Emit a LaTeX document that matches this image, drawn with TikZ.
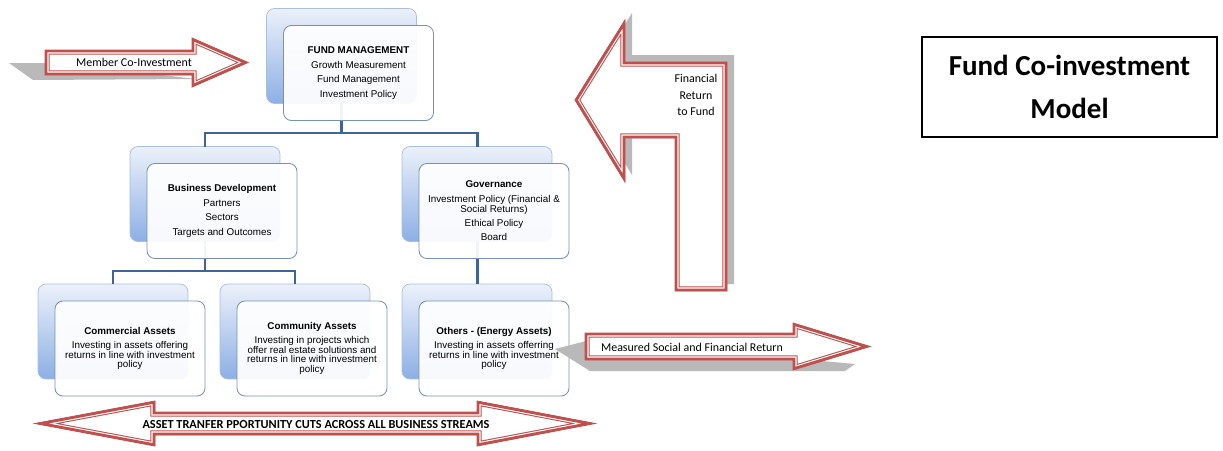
\documentclass[tikz,border=0pt]{standalone}
\usepackage{fontspec}
\setmainfont{Liberation Sans}
\newfontfamily\calfont{Carlito}
\usetikzlibrary{positioning}
\definecolor{arrowred}{RGB}{192,80,77}
\definecolor{linkblue}{RGB}{64,100,150}
\definecolor{bkTop}{RGB}{236,241,250}
\definecolor{bkBot}{RGB}{140,175,228}
\definecolor{bkEdge}{RGB}{170,190,222}
\definecolor{frEdge}{RGB}{120,145,185}
\definecolor{shadowgray}{RGB}{185,185,185}
\tikzstyle{backbox}=[rounded corners=4.5pt, draw=bkEdge, line width=0.4pt, top color=bkTop, bottom color=bkBot, minimum width=3cm, minimum height=1.9cm, inner sep=0pt, outer sep=0pt]
\tikzstyle{frontbox}=[rounded corners=4.5pt, draw=frEdge, line width=0.5pt, fill=white, fill opacity=0.93, text opacity=1, minimum width=3cm, minimum height=1.9cm, align=center, inner sep=1pt, font=\fontsize{5.6}{5.6}\selectfont]
\tikzstyle{link}=[linkblue, line width=1.7pt]
\tikzstyle{arrowtext}=[inner sep=0pt, align=center, font=\calfont\fontsize{6.8}{9.4}\selectfont]
% red block arrow with an inner double outline
\newcommand{\blockarrow}[1]{%
  \fill[white] #1;
  \begin{scope}
    \clip #1;
    \draw[arrowred, line width=5.2pt, line join=miter] #1;
    \draw[white, line width=4pt, line join=miter] #1;
    \draw[arrowred, line width=2.8pt, line join=miter] #1;
  \end{scope}
  \draw[arrowred, line width=0.5pt, line join=miter] #1;
}

\begin{document}
\begin{tikzpicture}[x=0.02cm, y=-0.02cm]
    \useasboundingbox (0,0) rectangle (1223,450);

    % back boxes
    \node[backbox] (fmB) at (341.5,56) {};
    \node[backbox] (bdB) at (205,194) {};
    \node[backbox] (govB) at (477,194) {};
    \node[backbox] (comB) at (113,331.5) {};
    \node[backbox] (cmyB) at (295,331.5) {};
    \node[backbox] (othB) at (477,331.5) {};

    \coordinate (bus1) at (0,133);
    \coordinate (bus2) at (0,271);

    % Links
    \draw[link] (fmB.south) -- (fmB.south |- bus1) -| (bdB.north);
    \draw[link] (fmB.south |- bus1) -| (govB.north);
    \draw[link] (bdB.south) -- (bdB.south |- bus2) -| (comB.north);
    \draw[link] (bdB.south |- bus2) -| (cmyB.north);
    \draw[link] (govB.south) -- (othB.north);

    % front boxes
    \node[frontbox] (fmF) at ([xshift=0.34cm, yshift=-0.34cm]fmB) {\textbf{FUND MANAGEMENT}\\[2.6pt]Growth Measurement\\[2.6pt]Fund Management\\[2.6pt]Investment Policy};
    \node[frontbox] (bdF) at ([xshift=0.34cm, yshift=-0.34cm]bdB) {\textbf{Business Development}\\[2.6pt]Partners\\[2.6pt]Sectors\\[2.6pt]Targets and Outcomes};
    \node[frontbox] (govF) at ([xshift=0.34cm, yshift=-0.34cm]govB) {\textbf{Governance}\\[2.6pt]Investment Policy (Financial \&\\Social Returns)\\[2.6pt]Ethical Policy\\[2.6pt]Board};
    \node[frontbox] (comF) at ([xshift=0.34cm, yshift=-0.34cm]comB) {\textbf{Commercial Assets}\\[2.4pt]Investing in assets offering\\returns in line with investment\\policy};
    \node[frontbox] (cmyF) at ([xshift=0.34cm, yshift=-0.34cm]cmyB) {\textbf{Community Assets}\\[2.4pt]Investing in projects which\\offer real estate solutions and\\returns in line with investment\\policy};
    \node[frontbox] (othF) at ([xshift=0.34cm, yshift=-0.34cm]othB) {\textbf{Others - (Energy Assets)}\\[2.4pt]Investing in assets offerring\\returns in line with investment\\policy};

    % Arrows
    \fill[shadowgray] (9,63) -- (60,63) -- (196,79) -- (33,80) -- cycle;
    \blockarrow{(45,50) -- (192,50) -- (192,38) -- (248,62.5) -- (192,87) -- (192,75) -- (45,75) -- cycle}
    \node[arrowtext] (member) at (134,62.5) {Member Co-Investment};

    \fill[shadowgray, shift={(7,-7)}] (575,100) -- (625,20) -- (625,62) -- (727,62) -- (727,291) -- (675,291) -- (675,138) -- (625,138) -- (625,182) -- cycle;
    \blockarrow{(575,100) -- (625,20) -- (625,62) -- (727,62) -- (727,291) -- (675,291) -- (675,138) -- (625,138) -- (625,182) -- cycle}
    \node[arrowtext] (finret) at (696,95) {Financial\\Return\\to Fund};

    \fill[shadowgray] (555,349) -- (590,340) -- (855,364) -- (845,371) -- (590,371) -- cycle;
    \blockarrow{(585,333) -- (793,333) -- (793,323) -- (870,346.5) -- (793,370) -- (793,360) -- (585,360) -- cycle}
    \node[arrowtext] (measured) at (692,347) {Measured Social and Financial Return};

    \blockarrow{(35,423.5) -- (155,401) -- (155,412) -- (477,412) -- (477,401) -- (595,423.5) -- (477,446) -- (477,435) -- (155,435) -- (155,446) -- cycle}
    \node[arrowtext, font=\calfont\bfseries\fontsize{7}{8}\selectfont] (transfer) at (316,424.5) {ASSET TRANFER PPORTUNITY CUTS ACROSS ALL BUSINESS STREAMS};

    % title
    \node[draw, line width=1.1pt, minimum width=5.9cm, minimum height=2cm, align=center, font=\calfont\bfseries\fontsize{16.5}{24}\selectfont] (title) at (1069.5,87) {Fund Co-investment\\Model};

\end{tikzpicture}
\end{document}
